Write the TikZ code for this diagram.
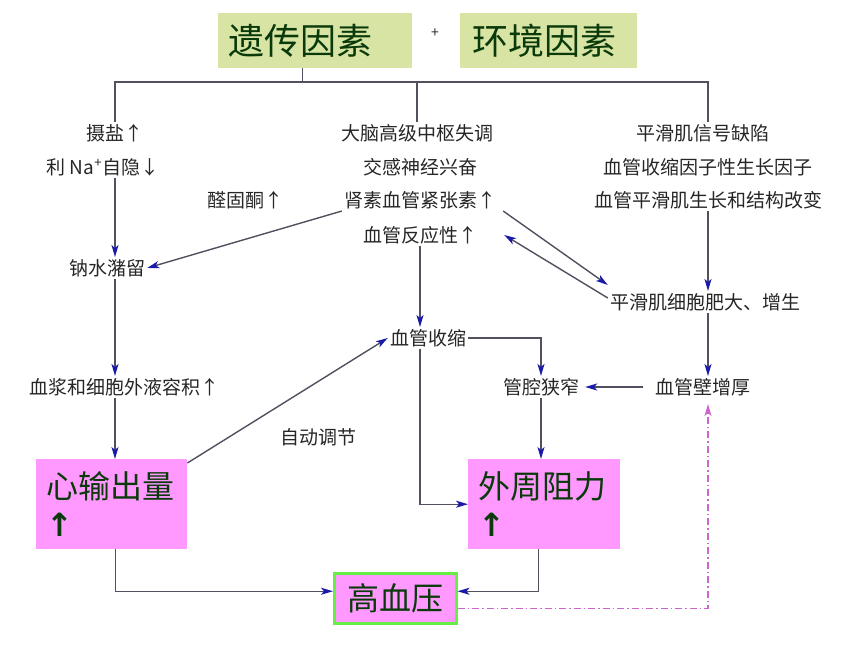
\documentclass[tikz,border=0pt]{standalone}
\usepackage{fontspec}
\setmainfont{Noto Sans CJK SC}
\newfontfamily\arrowfont{DejaVu Sans}
\usepackage{xcolor}
\usepackage{tikz}
\usetikzlibrary{arrows.meta}
\definecolor{factorgreen}{HTML}{D8E4A4}
\definecolor{resultpink}{HTML}{FF99FF}
\definecolor{textgreen}{HTML}{0A3A0A}
\definecolor{notegray}{HTML}{262626}
\definecolor{linegray}{HTML}{50505E}
\definecolor{arrowblue}{HTML}{1A1AA8}
\definecolor{dashpink}{HTML}{CC66CC}
\definecolor{hbpgreen}{HTML}{66EE44}
\tikzset{note/.style={inner sep=2pt, text=notegray, font=\fontsize{19}{23}\selectfont}}
\tikzset{link/.style={draw=linegray, line width=1.4pt}}
\tikzset{flow/.style={link, -{Stealth[length=12pt,width=7pt,inset=3pt,color=arrowblue]}}}
\tikzset{feedback/.style={draw=dashpink, line width=1.3pt, dash pattern=on 7pt off 3pt on 1.5pt off 3pt, -{Stealth[length=12pt,width=7pt,inset=3pt]}}}
\tikzset{factor/.style={fill=factorgreen, anchor=north west, inner sep=10pt, minimum height=55pt, align=left, text=textgreen, font=\fontsize{36}{40}\selectfont}}
\tikzset{result/.style={fill=resultpink, anchor=north west, inner sep=10pt, minimum height=90pt, align=left, text=textgreen, font=\fontsize{32}{38}\selectfont}}
\newcommand{\bigup}{{\arrowfont\bfseries ↑}}

\begin{document}
\begin{tikzpicture}[x=1pt,y=-1pt]
\useasboundingbox (0,0) rectangle (860,645);
% causes
\node[factor, text width=174pt] (gen) at (218,13) {遗传因素};
\node[factor, text width=153pt, inner xsep=12pt] (env) at (460,13) {环境因素};
\node[note, font=\fontsize{14}{16}\selectfont] (plus) at (435,33) {+};
\coordinate (busL) at (115,82);
\coordinate (busR) at (708,82);

% left column
\node[note] (salt) at (115,133) {摄盐↑};
\node[note] (na) at (103,167) {利 Na\textsuperscript{+}自隐↓};
\node[note] (ald) at (245,200) {醛固酮↑};
\node[note] (retain) at (107,268) {钠水潴留};
\node[note] (plasma) at (125,387) {血浆和细胞外液容积↑};
\node[result, text width=131pt] (co) at (36,459) {心输出量\\\bigup};

% middle column
\node[note] (brain) at (417,133) {大脑高级中枢失调};
\node[note] (sym) at (420,167) {交感神经兴奋};
\node[note] (renin) at (420,200) {肾素血管紧张素↑};
\node[note] (react) at (420,235) {血管反应性↑};
\node[note] (vc) at (428,338) {血管收缩};
\node[note] (auto) at (318,437) {自动调节};
\node[note] (lumen) at (541,387) {管腔狭窄};
\node[result, text width=132pt] (pr) at (468,459) {外周阻力\\\bigup};

% right column
\node[note] (sm1) at (703,133) {平滑肌信号缺陷};
\node[note] (sm2) at (708,167) {血管收缩因子性生长因子};
\node[note] (sm3) at (708,200) {血管平滑肌生长和结构改变};
\node[note] (hyper) at (705,302) {平滑肌细胞肥大、增生};
\node[note] (thick) at (703,387) {血管壁增厚};

% outcome
\node[fill=resultpink, draw=hbpgreen, line width=2.5pt, anchor=north west, minimum width=122pt, minimum height=50pt, inner sep=0pt, text=textgreen, font=\fontsize{32}{36}\selectfont] (hbp) at (333,572) {高血压};

\draw[link] ([xshift=-13pt]gen.south) -- ([xshift=-13pt]gen.south |- busL);
\draw[link] (salt.north) -- (busL) -| (sm1.north -| busR);
\draw[link] (brain.north) -- (brain.north |- busL);

\draw[flow] (na.south -| salt.south) -- (retain.north -| salt.south);
\draw[flow] (retain.south -| salt.south) -- (plasma.north -| salt.south);
\draw[flow] (plasma.south -| salt.south) -- (co.north -| salt.south);
\draw[flow] (renin.south west) -- (retain.east);
\draw[flow] (react.south) -- (react.south |- vc.north);
\draw[flow] ([yshift=-4pt]co.north east) -- (vc.west);
\draw[flow] (vc.east) -| (lumen.north);
\draw[flow] ([xshift=-8pt]vc.south) |- (pr.west);
\draw[flow] (lumen.south) -- (lumen.south |- pr.north);
\draw[flow] ([xshift=5pt]renin.south east) -- ([yshift=6pt]hyper.north west);
\draw[flow] ([yshift=4pt]hyper.west) -- ([xshift=25pt]react.east);
\draw[flow] (sm3.south -| busR) -- (hyper.north -| busR);
\draw[flow] (hyper.south -| busR) -- (thick.north -| busR);
\draw[flow] ([xshift=-10pt]thick.west) -- ([xshift=4pt]lumen.east);
\draw[flow] ([xshift=4pt]co.south) |- ([yshift=7pt]hbp.west);
\draw[flow] ([xshift=-6pt]pr.south) |- ([yshift=7pt]hbp.east);
\draw[feedback] ([yshift=-10pt]hbp.east) -| ([yshift=-6pt]thick.south -| busR);
\end{tikzpicture}
\end{document}
